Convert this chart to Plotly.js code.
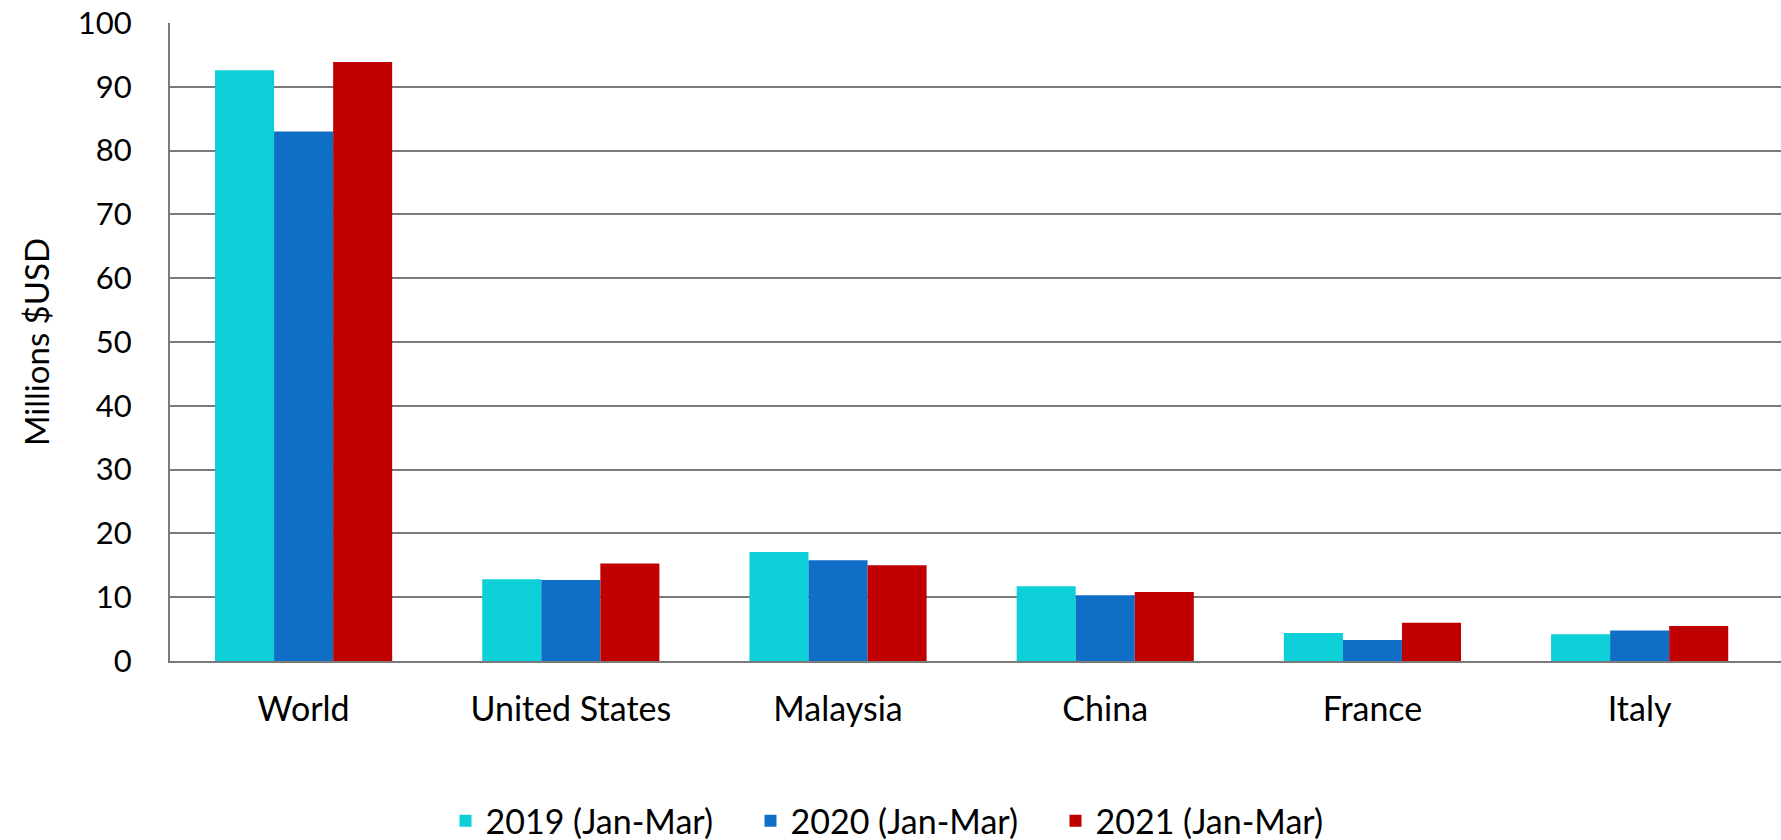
<!DOCTYPE html>
<html>
<head>
<meta charset="utf-8">
<script src="https://cdn.plot.ly/plotly-3.0.1.min.js"></script>
<style>
html,body{margin:0;padding:0;background:#fff;}
#chart{width:1781px;height:840px;}
</style>
</head>
<body>
<div id="chart"></div>
<script>
const categories = ["World", "United States", "Malaysia", "China", "France", "Italy"];
const seriesNames = ["2019 (Jan-Mar)", "2020 (Jan-Mar)", "2021 (Jan-Mar)"];
const values2019 = [92.6, 12.8, 17.1, 11.7, 4.4, 4.2];
const values2020 = [83.0, 12.7, 15.8, 10.3, 3.3, 4.8];
const values2021 = [93.9, 15.3, 15.0, 10.8, 6.0, 5.5];
const yTicks = [0, 10, 20, 30, 40, 50, 60, 70, 80, 90, 100];

const colors = ["#0DCFD8", "#0F6FC6", "#C00000"];
const allValues = [values2019, values2020, values2021];
const FONT = "Lato, 'Open Sans', sans-serif";

const traces = allValues.map((v, i) => ({
  type: "bar",
  name: seriesNames[i],
  x: categories,
  y: v,
  marker: {color: colors[i], line: {width: 0}},
  hoverinfo: "x+y+name"
}));

const layout = {
  width: 1781,
  height: 840,
  paper_bgcolor: "#ffffff",
  plot_bgcolor: "#ffffff",
  margin: {l: 170, r: 0, t: 23, b: 179, pad: 0, autoexpand: false},
  font: {family: FONT, size: 34, color: "#000000"},
  barmode: "group",
  bargap: 0.337,
  bargroupgap: 0,
  showlegend: true,
  legend: {
    orientation: "h",
    x: 0.455, xanchor: "center",
    y: -0.251, yanchor: "middle",
    font: {family: FONT, size: 34, color: "#000"},
    entrywidth: 260, entrywidthmode: "pixels",
    traceorder: "normal"
  },
  xaxis: {
    type: "category",
    range: [-0.5, 5.529],
    showgrid: false,
    showline: true,
    linecolor: "#7a7a7a",
    linewidth: 2,
    ticks: "",
    tickangle: 0,
    ticklabelstandoff: 17,
    tickfont: {family: FONT, size: 34, color: "#000"},
    zeroline: false,
    automargin: false,
    fixedrange: true
  },
  yaxis: {
    range: [0, 100],
    tickvals: yTicks,
    ticktext: yTicks.map(String),
    showgrid: true,
    gridcolor: "#7a7a7a",
    gridwidth: 2,
    showline: true,
    linecolor: "#7a7a7a",
    linewidth: 2,
    zeroline: false,
    ticks: "",
    ticklabelstandoff: 30,
    tickfont: {family: FONT, size: 31, color: "#000"},
    title: {text: "Millions $USD", font: {family: FONT, size: 33, color: "#000"}, standoff: 18},
    automargin: false,
    fixedrange: true
  }
};

Plotly.newPlot("chart", traces, layout, {displayModeBar: false, staticPlot: true});
</script>
</body>
</html>
